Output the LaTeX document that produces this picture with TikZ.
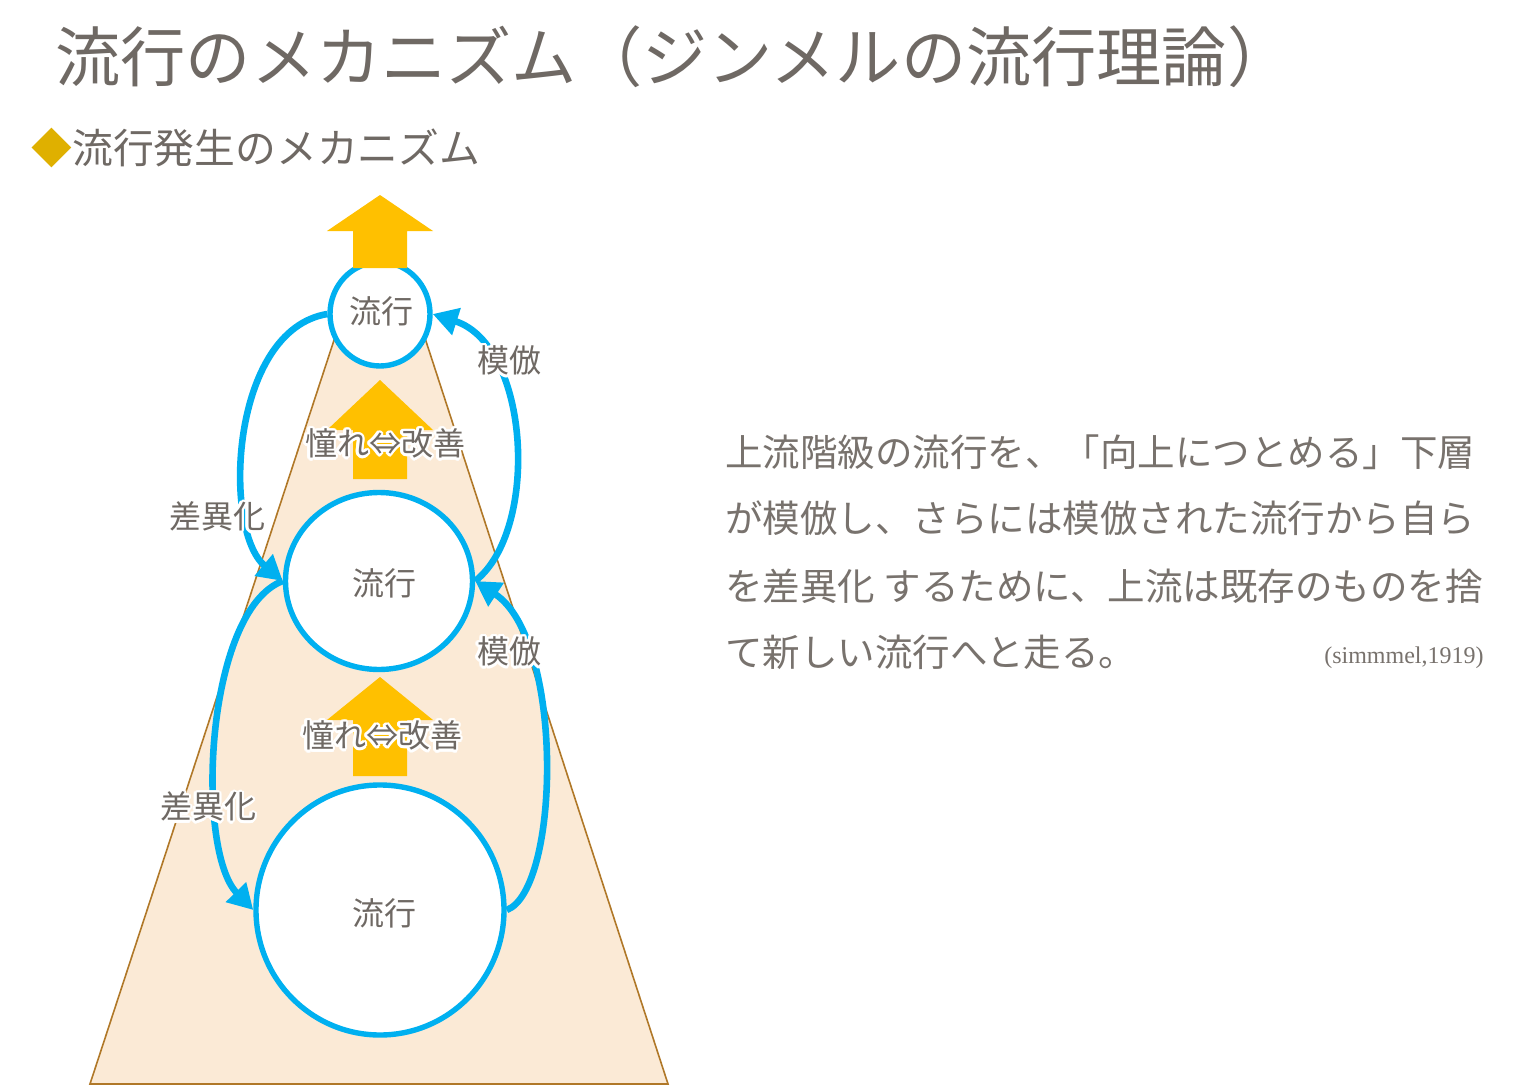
\documentclass[tikz,border=0pt]{standalone}
\usepackage{fontspec}
\setmainfont{Noto Sans CJK JP}
\newfontfamily\citefont{Liberation Serif}
\usepackage[copies]{contour}
\contourlength{1.3pt}
\contournumber{16}
\usetikzlibrary{shapes.geometric,arrows.meta}

\definecolor{ryublue}{HTML}{00B0F0}
\definecolor{ryuorange}{HTML}{FFC000}
\definecolor{ryupeach}{HTML}{FBEAD6}
\definecolor{ryubrown}{HTML}{B07828}
\definecolor{ryugrey}{HTML}{6F6964}
\definecolor{ryutext}{HTML}{78726D}
\definecolor{ryugold}{HTML}{DFB000}

% block arrow pointing up: x, tip, head base, bottom
\newcommand{\uparrowat}[4]{\fill[ryuorange] (#1,#2) -- (#1+53,#3) -- (#1+27,#3) -- (#1+27,#4) -- (#1-27,#4) -- (#1-27,#3) -- (#1-53,#3) -- cycle;}

\begin{document}
\begin{tikzpicture}[x=0.5pt,y=-0.5pt,
    ring/.style={ellipse,draw=ryublue,line width=2.7pt,fill=white,inner sep=0pt},
    flow/.style={draw=ryublue,line width=3.3pt,-{Triangle[length=12.5pt,width=13.5pt]}},
    lbl/.style={text=ryugrey,font=\fontsize{16}{18}\selectfont,inner sep=0pt},
    para/.style={anchor=west,inner sep=0pt,text=ryutext,font=\fontsize{18.75}{22}\selectfont}]

    \fill[white] (0,0) rectangle (1520,1086);
    \useasboundingbox (0,0) rectangle (1520,1086);

    % Headings
    \node[anchor=west,inner sep=0pt,text=ryugrey,font=\fontsize{32.6}{36}\selectfont] (title) at (55,57) {流行のメカニズム（ジンメルの流行理論）};
    \node[anchor=west,inner sep=0pt,text=ryugrey,font=\fontsize{20.4}{24}\selectfont] (subtitle) at (31,148) {{\color{ryugold}◆}流行発生のメカニズム};

    % Draw the triangle
    \coordinate (apex) at (380,200);
    \coordinate (bl) at (90,1084);
    \coordinate (br) at (668,1084);
    \filldraw[fill=ryupeach,draw=ryubrown,line width=0.8pt] (apex) -- (bl) -- (br) -- cycle;

    % the three circles
    \node[ring,minimum width=50pt,minimum height=52pt] (top) at (380,314) {};
    \node[ring,minimum width=93.5pt,minimum height=88.5pt] (mid) at (379,581) {};
    \node[ring,minimum width=124pt,minimum height=125pt] (bot) at (380,910) {};

    % upward arrows
    \uparrowat{380}{195}{231}{268}
    \uparrowat{380}{380}{430}{479}
    \uparrowat{380}{677}{720}{776}

    % differentiation and imitation
    \draw[flow] (top.west) .. controls (230,330) and (222,530) .. (mid.west);
    \draw[flow] (mid.east) .. controls (540,530) and (530,345) .. (top.east);
    \draw[flow] (mid.west) .. controls (205,610) and (195,850) .. (bot.west);
    \draw[flow] (bot.east) .. controls (560,890) and (565,640) .. (mid.east);

    % labels
    \node[lbl] (toptext) at (381,313) {\contour{white}{流行}};
    \node[lbl] (midtext) at (384,585) {\contour{white}{流行}};
    \node[lbl] (bottext) at (384,915) {\contour{white}{流行}};
    \node[lbl] (diff1) at (217,518) {\contour{white}{差異化}};
    \node[lbl] (imit1) at (509,362) {\contour{white}{模倣}};
    \node[lbl] (long1) at (385,445) {\contour{white}{憧れ⇔改善}};
    \node[lbl] (diff2) at (208,808) {\contour{white}{差異化}};
    \node[lbl] (imit2) at (509,653) {\contour{white}{模倣}};
    \node[lbl] (long2) at (382,737) {\contour{white}{憧れ⇔改善}};

    % explanation
    \node[para] (line1) at (725,452) {上流階級の流行を、「向上につとめる」下層};
    \node[para] (line2) at (725,518) {が模倣し、さらには模倣された流行から自ら};
    \node[para] (line3) at (725,586) {を差異化 するために、上流は既存のものを捨};
    \node[para] (line4) at (725,652) {て新しい流行へと走る。};
    \node[anchor=east,inner sep=0pt,text=ryutext,font=\citefont\fontsize{12}{14}\selectfont] (cite) at (1484,658) {(simmmel,1919)};

\end{tikzpicture}
\end{document}
